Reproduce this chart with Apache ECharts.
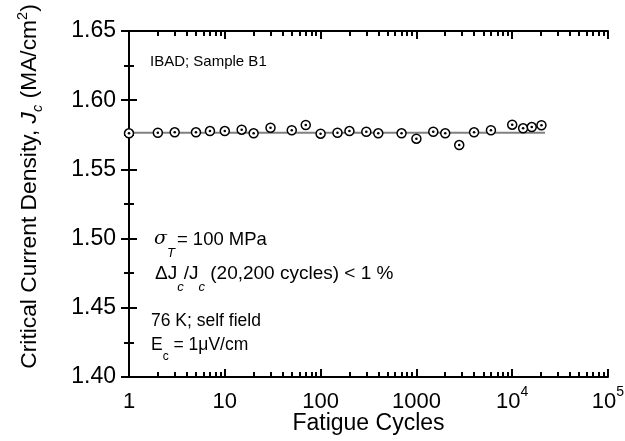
<!DOCTYPE html>
<html><head><meta charset="utf-8">
<script src="https://cdn.jsdelivr.net/npm/echarts@6/dist/echarts.min.js"></script>
<style>html,body{margin:0;padding:0;background:#fff}#c{width:625px;height:441px}</style>
</head><body><div id="c"></div>
<script>
const cycles = [1,2,3,5,7,10,15,20,30,50,70,100,150,200,300,400,700,1000,1500,2000,2800,4000,6000,10000,13000,16000,20200];
const jc = [1.5761,1.5765,1.5768,1.5768,1.5777,1.5777,1.5787,1.5761,1.5801,1.5783,1.5821,1.5758,1.5765,1.5777,1.5772,1.5761,1.5761,1.5722,1.5772,1.5761,1.5676,1.5768,1.5783,1.5823,1.5797,1.5806,1.5819];
const fitX = [1, 22000];
const fitY = [1.5765, 1.5765];
const yTicks = [1.40,1.45,1.50,1.55,1.60,1.65];
const xMajor = [1,10,100,1000,10000,100000];
const xMinor = [2,3,4,5,6,7,8,9,20,30,40,50,60,70,80,90,200,300,400,500,600,700,800,900,2000,3000,4000,5000,6000,7000,8000,9000,20000,30000,40000,50000,60000,70000,80000,90000];

const FONT = '"Liberation Sans", Arial, sans-serif';
const chart = echarts.init(document.getElementById('c'), null, {renderer:'canvas'});
const lineStyle = {color:'#000', width:2};
const minorExp = xMinor.map(v => Math.log10(v));

function xLabel(v){
  if (v >= 10000) { return '{b|10}{s|' + Math.round(Math.log10(v)) + '}'; }
  return '{b|' + v + '}';
}
const grid = {left:129, right:17, top:31, bottom:64, outerBoundsMode:'none', containLabel:false};
chart.setOption({
  animation:false,
  grid: grid,
  xAxis: [
    {type:'log', logBase:10, min:xMajor[0], max:xMajor[xMajor.length-1], position:'bottom',
     name:'Fatigue Cycles', nameLocation:'middle', nameGap:35, nameMoveOverlap:false,
     nameTextStyle:{fontFamily:FONT, fontSize:23, color:'#000'},
     axisLine:{show:true, lineStyle:lineStyle},
     axisTick:{show:true, inside:true, length:8, lineStyle:{color:'#000', width:2}},
     minorTick:{show:false}, splitLine:{show:false},
     axisLabel:{margin:8, formatter:xLabel, rich:{
        b:{fontFamily:FONT, fontSize:22, color:'#000', lineHeight:28, verticalAlign:'bottom'},
        s:{fontFamily:FONT, fontSize:14, color:'#000', lineHeight:28, verticalAlign:'top'}}}},
    {type:'value', min:0, max:5, position:'bottom', gridIndex:0,
     axisLine:{show:false}, axisLabel:{show:false}, splitLine:{show:false},
     axisTick:{show:true, inside:true, length:5, customValues:minorExp, lineStyle:{color:'#000', width:2}}},
    {type:'log', logBase:10, min:xMajor[0], max:xMajor[xMajor.length-1], position:'top',
     axisLine:{show:true, lineStyle:lineStyle}, axisLabel:{show:false}, splitLine:{show:false},
     axisTick:{show:true, inside:true, length:8, lineStyle:{color:'#000', width:2}}},
    {type:'value', min:0, max:5, position:'top',
     axisLine:{show:false}, axisLabel:{show:false}, splitLine:{show:false},
     axisTick:{show:true, inside:true, length:5, customValues:minorExp, lineStyle:{color:'#000', width:2}}}
  ],
  yAxis: [
    {type:'value', min:yTicks[0], max:yTicks[yTicks.length-1], interval:0.05, position:'left',
     name:'Critical Current Density, {i|J}{sub|c} (MA/cm{sup|2})', nameLocation:'middle', nameRotate:90, nameGap:84,
     nameTextStyle:{fontFamily:FONT, fontSize:22.8, color:'#000', lineHeight:30, padding:[0,0,0,35], rich:{
       i:{fontFamily:FONT, fontSize:22.8, fontStyle:'italic', color:'#000', lineHeight:30},
       sub:{fontFamily:FONT, fontSize:14.5, fontStyle:'italic', color:'#000', lineHeight:30, verticalAlign:'bottom'},
       sup:{fontFamily:FONT, fontSize:14.5, color:'#000', lineHeight:30, verticalAlign:'top'}}},
     axisLine:{show:true, lineStyle:lineStyle},
     axisTick:{show:true, inside:true, length:8, lineStyle:{color:'#000', width:2}},
     minorTick:{show:true, splitNumber:2, length:5, lineStyle:{color:'#000', width:2}},
     splitLine:{show:false}, minorSplitLine:{show:false},
     axisLabel:{margin:13, fontFamily:FONT, fontSize:23, color:'#000', formatter:v => v.toFixed(2)}},
    {type:'value', min:yTicks[0], max:yTicks[yTicks.length-1], interval:0.05, position:'right',
     axisLine:{show:true, lineStyle:lineStyle},
     axisTick:{show:true, inside:true, length:8, lineStyle:{color:'#000', width:2}},
     minorTick:{show:true, splitNumber:2, length:5, lineStyle:{color:'#000', width:2}},
     splitLine:{show:false}, axisLabel:{show:false}}
  ],
  series: [
    {type:'line', xAxisIndex:0, yAxisIndex:0, data:fitX.map((x,i)=>[x,fitY[i]]),
     symbol:'none', lineStyle:{color:'#808080', width:2}, z:2},
    {type:'scatter', xAxisIndex:0, yAxisIndex:0, data:cycles.map((x,i)=>[x,jc[i]]),
     symbol:'circle', symbolSize:9, clip:false,
     itemStyle:{color:'#fff', borderColor:'#000', borderWidth:1.5, opacity:1}, z:3},
    {type:'scatter', xAxisIndex:0, yAxisIndex:0, data:cycles.map((x,i)=>[x,jc[i]]),
     symbol:'circle', symbolSize:2.6, clip:false,
     itemStyle:{color:'#000', opacity:1}, z:4}
  ],
  graphic: [
    {type:'text', left:150, top:54, style:{text:'{t|IBAD; Sample B1}',
      rich:{t:{fontFamily:FONT, fontSize:15, lineHeight:20, color:'#000'}}}},
    {type:'text', left:154, top:230, style:{text:'{g|σ}{gs|T}{t|= 100 MPa}',
      rich:{g:{fontFamily:'"DejaVu Serif", serif', fontStyle:'italic', fontSize:19, lineHeight:40, color:'#000'},
            gs:{fontFamily:FONT, fontStyle:'italic', fontSize:13, lineHeight:40, verticalAlign:'bottom', color:'#000'},
            t:{fontFamily:FONT, fontSize:18.5, lineHeight:40, color:'#000', padding:[0,0,0,2]}}}},
    {type:'text', left:155, top:264, style:{text:'{t|ΔJ}{s|c}{t|/J}{s|c}{t| (20,200 cycles) < 1 %}',
      rich:{t:{fontFamily:FONT, fontSize:19, lineHeight:40, color:'#000'},
            s:{fontFamily:FONT, fontStyle:'italic', fontSize:13, lineHeight:40, verticalAlign:'bottom', color:'#000'}}}},
    {type:'text', left:151, top:312, style:{text:'{t|76 K; self field}',
      rich:{t:{fontFamily:FONT, fontSize:17.5, lineHeight:24, color:'#000'}}}},
    {type:'text', left:151, top:336, style:{text:'{t|E}{s|c}{t| = 1μV/cm}',
      rich:{t:{fontFamily:FONT, fontSize:17.5, lineHeight:36, color:'#000'},
            s:{fontFamily:FONT, fontSize:12, lineHeight:36, verticalAlign:'bottom', color:'#000'}}}}
  ]
});
</script></body></html>
